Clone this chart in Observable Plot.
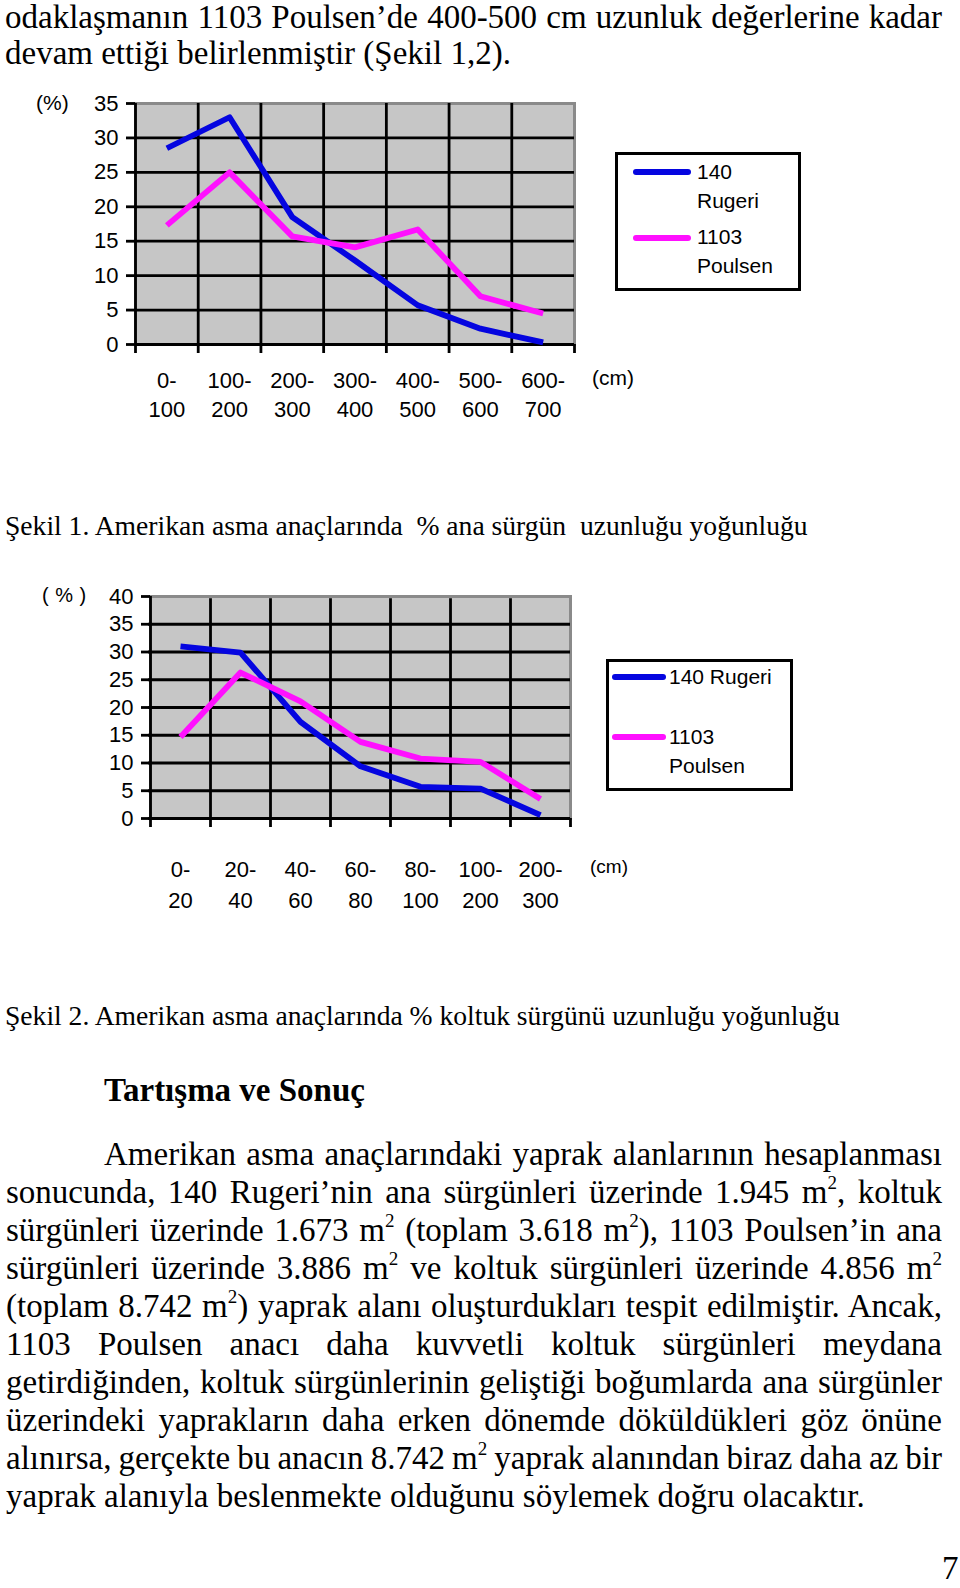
<!DOCTYPE html>
<html><head><meta charset="utf-8">
<script src="https://cdn.jsdelivr.net/npm/d3@7"></script>
<script src="https://cdn.jsdelivr.net/npm/@observablehq/plot@0.6"></script>
<style>
body{margin:0;background:#fff;}
#page{position:relative;width:960px;height:1588px;overflow:hidden;font-family:"Liberation Serif","Times New Roman",serif;color:#000;}
.t{position:absolute;font-size:33px;line-height:38px;white-space:pre;}
.cap{font-size:27.6px;}
.jl{position:absolute;font-size:33px;line-height:38px;white-space:nowrap;word-spacing:-2px;text-align:justify;text-align-last:justify;}
sup{font-size:19px;vertical-align:0;position:relative;top:-14px;line-height:0;}
.chart{position:absolute;left:0;}
.lg{position:absolute;border:3px solid #000;box-sizing:border-box;font-family:"Liberation Sans",Arial,sans-serif;font-size:21px;line-height:29px;background:#fff;}
.lg .sw{position:absolute;height:6px;border-radius:3px;}
.lg .tx{position:absolute;white-space:pre;}
.sans{position:absolute;font-family:"Liberation Sans",Arial,sans-serif;font-size:21px;white-space:pre;}
</style></head>
<body>
<div id="page">
  <div class="jl" style="left:5px;width:937px;top:1px;line-height:32px;">odaklaşmanın 1103 Poulsen’de  400-500 cm uzunluk değerlerine kadar</div>
  <div class="t" style="left:5px;top:34px">devam ettiği belirlenmiştir (Şekil 1,2).</div>

  <div id="c1" class="chart" style="top:80px"></div>
  <div class="sans" style="left:36px;top:91px">(%)</div>
  <div class="sans" style="left:592px;top:366px">(cm)</div>
  <div id="lg1" class="lg" style="left:615px;top:152px;width:186px;height:139px"></div>

  <div class="t cap" style="left:5px;top:507px">Şekil 1. Amerikan asma anaçlarında  % ana sürgün  uzunluğu yoğunluğu</div>

  <div id="c2" class="chart" style="top:570px"></div>
  <div class="sans" style="left:42px;top:584px;font-size:20px;word-spacing:1px">( % )</div>
  <div class="sans" style="left:590px;top:856px;font-size:19px">(cm)</div>
  <div id="lg2" class="lg" style="left:606px;top:659px;width:187px;height:132px"></div>

  <div class="t cap" style="left:5px;top:997px">Şekil 2. Amerikan asma anaçlarında % koltuk sürgünü uzunluğu yoğunluğu</div>

  <div class="t" style="left:104px;top:1071px;font-weight:bold">Tartışma ve Sonuç</div>

  <div class="jl" style="left:104px;width:838px;top:1135px">Amerikan asma anaçlarındaki yaprak alanlarının hesaplanması</div>
  <div class="jl" style="left:6px;width:936px;top:1173px">sonucunda, 140 Rugeri’nin ana sürgünleri üzerinde 1.945 m<sup>2</sup>, koltuk</div>
  <div class="jl" style="left:6px;width:936px;top:1211px">sürgünleri üzerinde 1.673 m<sup>2</sup> (toplam 3.618 m<sup>2</sup>), 1103 Poulsen’in ana</div>
  <div class="jl" style="left:6px;width:936px;top:1249px">sürgünleri üzerinde 3.886 m<sup>2</sup> ve koltuk sürgünleri üzerinde 4.856 m<sup>2</sup></div>
  <div class="jl" style="left:6px;width:936px;top:1287px">(toplam 8.742 m<sup>2</sup>) yaprak alanı oluşturdukları tespit edilmiştir. Ancak,</div>
  <div class="jl" style="left:6px;width:936px;top:1325px">1103 Poulsen anacı daha kuvvetli koltuk sürgünleri meydana</div>
  <div class="jl" style="left:6px;width:936px;top:1363px">getirdiğinden, koltuk sürgünlerinin geliştiği boğumlarda ana sürgünler</div>
  <div class="jl" style="left:6px;width:936px;top:1401px">üzerindeki yaprakların daha erken dönemde döküldükleri göz önüne</div>
  <div class="jl" style="left:6px;width:936px;top:1439px">alınırsa, gerçekte bu anacın 8.742 m<sup>2</sup> yaprak alanından biraz daha az bir</div>
  <div class="t" style="left:6px;top:1477px">yaprak alanıyla beslenmekte olduğunu söylemek doğru olacaktır.</div>

  <div class="t" style="left:942px;top:1549px">7</div>
</div>
<script>
// ---- data ----
const seriesNames = ["140 Rugeri", "1103 Poulsen"];
const seriesColors = ["#0505e0", "#ff10ff"];

const cats1 = ["0-\n100", "100-\n200", "200-\n300", "300-\n400", "400-\n500", "500-\n600", "600-\n700"];
const rugeri1 = [28.5, 33.0, 18.5, 12.2, 5.7, 2.3, 0.3];
const poulsen1 = [17.3, 25.0, 15.7, 14.1, 16.7, 7.0, 4.5];
const yTicks1 = [0, 5, 10, 15, 20, 25, 30, 35];

const cats2 = ["0-\n20", "20-\n40", "40-\n60", "60-\n80", "80-\n100", "100-\n200", "200-\n300"];
const rugeri2 = [31.0, 29.9, 17.4, 9.4, 5.7, 5.4, 0.6];
const poulsen2 = [14.7, 26.3, 21.1, 13.8, 10.8, 10.2, 3.5];
const yTicks2 = [0, 5, 10, 15, 20, 25, 30, 35, 40];

function makeChart(o) {
  const n = o.cats.length;
  const rows = [];
  o.cats.forEach((c, i) => {
    rows.push({i: i + 0.5, v: o.s1[i], s: seriesNames[0]});
    rows.push({i: i + 0.5, v: o.s2[i], s: seriesNames[1]});
  });
  const yMax = o.yTicks[o.yTicks.length - 1];
  const centers = d3.range(n).map(i => i + 0.5);
  const bounds = d3.range(n + 1);
  return Plot.plot({
    width: 960,
    height: o.svgH,
    marginLeft: o.left,
    marginRight: 960 - o.right,
    marginTop: o.top - o.svgTop,
    marginBottom: o.svgTop + o.svgH - o.zeroY,
    x: {type: "linear", domain: [0, n], axis: null, label: null},
    y: {domain: [0, yMax], axis: null, label: null},
    color: {domain: seriesNames, range: seriesColors},
    style: {fontFamily: "Liberation Sans, Arial, sans-serif", fontSize: "21px", background: "transparent", color: "#000", overflow: "visible"},
    marks: [
      Plot.frame({fill: "#c6c6c6", stroke: "#8a8a8a", strokeWidth: 3}),
      Plot.ruleY(o.yTicks.filter(d => d < yMax), {stroke: "#000", strokeWidth: 2.8, x1: o.gridX1, x2: n}),
      Plot.ruleX(bounds.filter(d => d > 0 && d < n), {stroke: "#000", strokeWidth: 2.8, y1: 0, y2: yMax * o.vTop}),
      Plot.ruleX([0], {stroke: "#000", strokeWidth: 2.8}),
      Plot.axisY(o.yTicks, {label: null, tickSize: 9, tickPadding: 8, strokeWidth: 2.8, fontSize: 22, stroke: "#000"}),
      Plot.axisX(bounds, {label: null, tickSize: 9, tickFormat: () => "", strokeWidth: 2.8, stroke: "#000"}),
      Plot.axisX(centers, {label: null, tickSize: 0, tickPadding: o.labelPad, tickFormat: d => o.cats[Math.round(d - 0.5)], fontSize: 22, lineHeight: o.lh}),
      Plot.line(rows, {x: "i", y: "v", z: "s", stroke: "s", strokeWidth: 5.8, strokeLinejoin: "round", strokeLinecap: "butt"})
    ]
  });
}

document.getElementById("c1").appendChild(makeChart({
  cats: cats1, s1: rugeri1, s2: poulsen1, yTicks: yTicks1,
  left: 135, right: 574, top: 103, zeroY: 344, svgTop: 80, svgH: 350,
  labelPad: 22, lh: 1.35, gridX1: 0, vTop: 1
}));
document.getElementById("c2").appendChild(makeChart({
  cats: cats2, s1: rugeri2, s2: poulsen2, yTicks: yTicks2,
  left: 150, right: 570, top: 596, zeroY: 818, svgTop: 570, svgH: 340,
  labelPad: 36, lh: 1.42, gridX1: -0.03, vTop: 0.99
}));

function legend(id, items) {
  const el = document.getElementById(id);
  items.forEach((it, k) => {
    const sw = document.createElement("div");
    sw.className = "sw";
    sw.style.cssText = `left:${it.sx}px;width:${it.sw}px;top:${it.sy}px;background:${seriesColors[k]}`;
    el.appendChild(sw);
    const tx = document.createElement("div");
    tx.className = "tx";
    tx.style.cssText = `left:${it.tx}px;top:${it.ty}px`;
    tx.textContent = it.text;
    el.appendChild(tx);
  });
}
legend("lg1", [
  {sx: 15, sw: 58, sy: 14, tx: 79, ty: 2, text: seriesNames[0].replace(" ", "\n")},
  {sx: 15, sw: 58, sy: 80, tx: 79, ty: 67, text: seriesNames[1].replace(" ", "\n")}
]);
legend("lg2", [
  {sx: 3, sw: 54, sy: 12, tx: 60, ty: 0, text: seriesNames[0]},
  {sx: 3, sw: 54, sy: 72, tx: 60, ty: 60, text: seriesNames[1].replace(" ", "\n")}
]);
</script>
</body></html>
